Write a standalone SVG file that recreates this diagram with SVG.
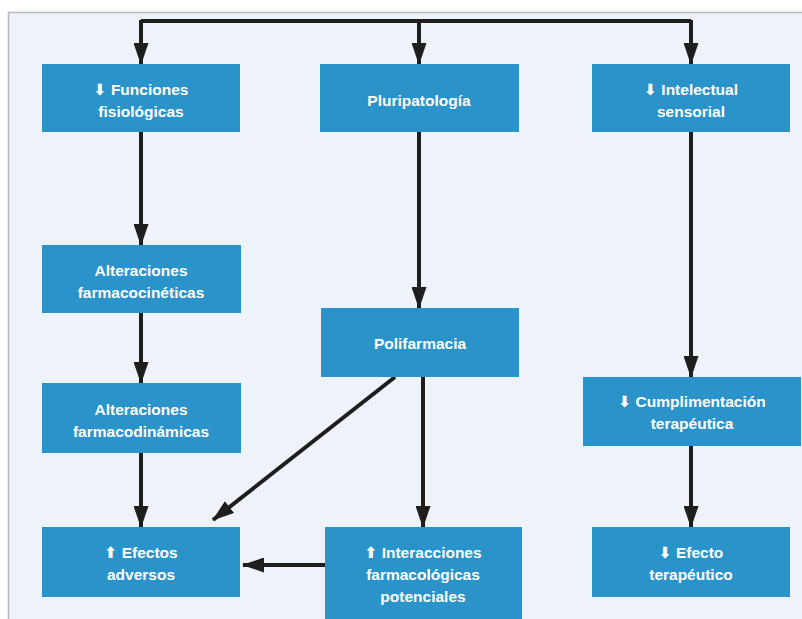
<svg xmlns="http://www.w3.org/2000/svg" width="802" height="619" viewBox="0 0 802 619">
<defs>
<marker id="ah" viewBox="0 0 22 15" refX="21" refY="7.5" markerWidth="22" markerHeight="15" markerUnits="userSpaceOnUse" orient="auto">
<path d="M0,0 L22,7.5 L0,15 Z" fill="#1e1e1e"/>
</marker>
<style>
.box{fill:#2a93c9}
.t{font-family:"Liberation Sans",Arial,sans-serif;font-weight:bold;font-size:15.5px;fill:#ffffff;text-anchor:middle}
.a{font-family:"DejaVu Sans",sans-serif;font-weight:bold}
.c{stroke:#1e1e1e;stroke-width:4;fill:none}
.ca{stroke:#1e1e1e;stroke-width:4;fill:none;marker-end:url(#ah)}
</style>
</defs>
<rect x="0" y="0" width="802" height="619" fill="#ffffff"/>
<rect x="8" y="12" width="794" height="607" fill="#eef2f9"/>
<path d="M8.5,619 V12.5 H802" fill="none" stroke="#b8b8b8" stroke-width="1.5"/>

<g id="connectors">
<path class="c" d="M141,21 H691" stroke-width="3"/>
<path class="ca" d="M141,20 V64"/>
<path class="ca" d="M419,20 V64"/>
<path class="ca" d="M691,20 V64"/>
<path class="ca" d="M141,132 V245"/>
<path class="ca" d="M141,313 V383"/>
<path class="ca" d="M141,453 V527"/>
<path class="ca" d="M419,132 V308"/>
<path class="ca" d="M423,377 V527"/>
<path class="ca" d="M395,377 L213,520"/>
<path class="ca" d="M325,565 H243"/>
<path class="ca" d="M691,132 V377"/>
<path class="ca" d="M691,446 V527"/>
</g>

<g id="n_funciones">
<rect class="box" x="42" y="64" width="198" height="68"/>
<text class="t" x="141" y="95"><tspan class="a">⬇</tspan> Funciones</text>
<text class="t" x="141" y="117">fisiológicas</text>
</g>
<g id="n_pluripatologia">
<rect class="box" x="320" y="64" width="199" height="68"/>
<text class="t" x="419" y="106">Pluripatología</text>
</g>
<g id="n_intelectual">
<rect class="box" x="592" y="64" width="198" height="68"/>
<text class="t" x="691" y="95"><tspan class="a">⬇</tspan> Intelectual</text>
<text class="t" x="691" y="117">sensorial</text>
</g>
<g id="n_alt_cin">
<rect class="box" x="42" y="245" width="199" height="68"/>
<text class="t" x="141" y="276">Alteraciones</text>
<text class="t" x="141" y="298">farmacocinéticas</text>
</g>
<g id="n_alt_din">
<rect class="box" x="42" y="383" width="199" height="70"/>
<text class="t" x="141" y="415">Alteraciones</text>
<text class="t" x="141" y="437">farmacodinámicas</text>
</g>
<g id="n_polifarmacia">
<rect class="box" x="321" y="308" width="198" height="69"/>
<text class="t" x="420" y="349">Polifarmacia</text>
</g>
<g id="n_cumplimentacion">
<rect class="box" x="583" y="377" width="218" height="69"/>
<text class="t" x="692" y="407"><tspan class="a">⬇</tspan> Cumplimentación</text>
<text class="t" x="692" y="429">terapéutica</text>
</g>
<g id="n_efectos">
<rect class="box" x="42" y="527" width="198" height="70"/>
<text class="t" x="141" y="558"><tspan class="a">⬆</tspan> Efectos</text>
<text class="t" x="141" y="580">adversos</text>
</g>
<g id="n_interacciones">
<rect class="box" x="325" y="527" width="197" height="92"/>
<text class="t" x="423" y="558"><tspan class="a">⬆</tspan> Interacciones</text>
<text class="t" x="423" y="580">farmacológicas</text>
<text class="t" x="423" y="602">potenciales</text>
</g>
<g id="n_efecto_terapeutico">
<rect class="box" x="592" y="527" width="198" height="70"/>
<text class="t" x="691" y="558"><tspan class="a">⬇</tspan> Efecto</text>
<text class="t" x="691" y="580">terapéutico</text>
</g>
</svg>
